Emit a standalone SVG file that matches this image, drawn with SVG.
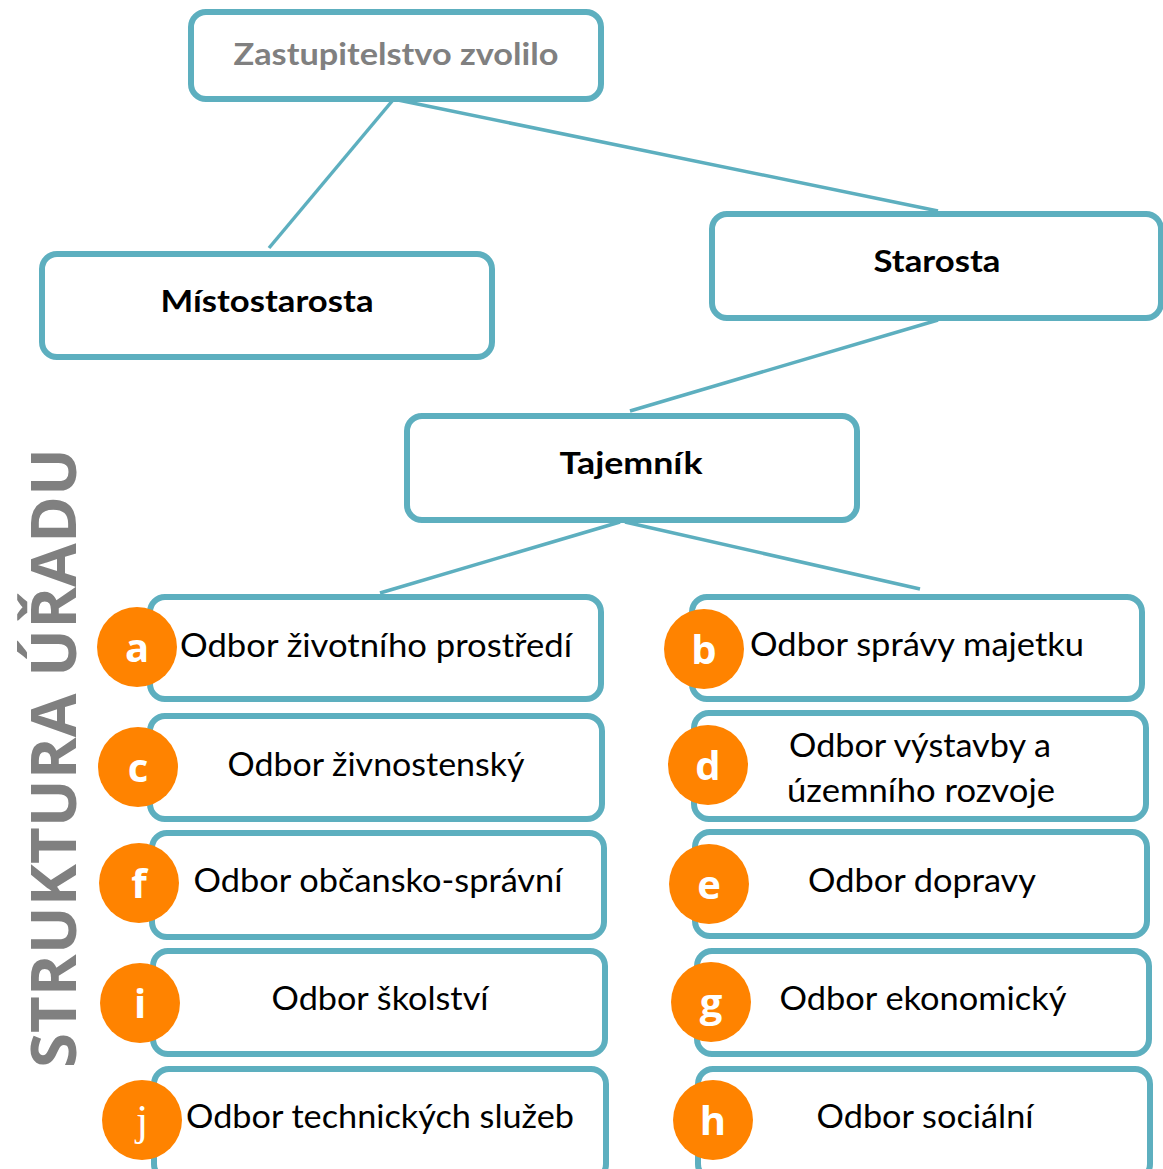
<svg xmlns="http://www.w3.org/2000/svg" width="1163" height="1169" viewBox="0 0 1163 1169">
<style>
.box{fill:#fff;stroke:#5DAFBF;stroke-width:6}
.con{stroke:#5DAFBF;stroke-width:3.5;fill:none}
.t{font-family:Lato,"Open Sans",sans-serif;font-size:32px;fill:#000;text-anchor:middle}
.b{font-weight:bold;font-size:31px}
.dot{fill:#FF8300}
.l{font-family:"Open Sans",Lato,sans-serif;font-weight:bold;font-size:40px;fill:#fff;text-anchor:middle}
</style>
<rect width="1163" height="1169" fill="#fff"/>
<g id="connectors">
<line class="con" x1="393" y1="100" x2="269" y2="248"/>
<line class="con" x1="398" y1="100" x2="938" y2="211"/>
<line class="con" x1="938" y1="320" x2="630" y2="411"/>
<line class="con" x1="620" y1="522" x2="380" y2="593"/>
<line class="con" x1="625" y1="522" x2="920" y2="589"/>
</g>
<g id="zastupitelstvo"><rect class="box" x="191" y="12" width="410" height="87" rx="15"/><text class="t b" x="396" y="65" style="fill:#808080" textLength="325" lengthAdjust="spacingAndGlyphs">Zastupitelstvo zvolilo</text></g>
<g id="mistostarosta"><rect class="box" x="42" y="254" width="450" height="103" rx="15"/><text class="t b" x="267" y="312" textLength="213" lengthAdjust="spacingAndGlyphs">Místostarosta</text></g>
<g id="starosta"><rect class="box" x="712" y="214" width="449" height="104" rx="15"/><text class="t b" x="937" y="272" textLength="127" lengthAdjust="spacingAndGlyphs">Starosta</text></g>
<g id="tajemnik"><rect class="box" x="407" y="416" width="450" height="104" rx="15"/><text class="t b" x="631" y="474" textLength="143" lengthAdjust="spacingAndGlyphs">Tajemník</text></g>
<g id="title"><text transform="translate(76,758) rotate(-90)" style="font-family:'Open Sans',Lato,sans-serif;font-weight:bold;font-size:62px;fill:#808080;text-anchor:middle" textLength="620" lengthAdjust="spacingAndGlyphs">STRUKTURA ÚŘADU</text></g>
<g id="odbor-a"><rect class="box" x="150" y="597" width="451" height="102" rx="15"/><circle class="dot" cx="137" cy="647" r="40"/><text class="l" x="137" y="662">a</text><text class="t" x="376" y="657" textLength="392" lengthAdjust="spacingAndGlyphs">Odbor životního prostředí</text></g>
<g id="odbor-b"><rect class="box" x="692" y="597" width="450" height="102" rx="15"/><circle class="dot" cx="704" cy="649" r="40"/><text class="l" x="704" y="664">b</text><text class="t" x="917" y="656" textLength="334" lengthAdjust="spacingAndGlyphs">Odbor správy majetku</text></g>
<g id="odbor-c"><rect class="box" x="150" y="716" width="452" height="103" rx="15"/><circle class="dot" cx="138" cy="767" r="40"/><text class="l" x="138" y="782">c</text><text class="t" x="376" y="776" textLength="297" lengthAdjust="spacingAndGlyphs">Odbor živnostenský</text></g>
<g id="odbor-d"><rect class="box" x="694" y="713" width="452" height="106" rx="15"/><circle class="dot" cx="708" cy="765" r="40"/><text class="l" x="708" y="780">d</text><text class="t" x="920" y="757" textLength="262" lengthAdjust="spacingAndGlyphs">Odbor výstavby a</text><text class="t" x="921" y="802" textLength="268" lengthAdjust="spacingAndGlyphs">územního rozvoje</text></g>
<g id="odbor-f"><rect class="box" x="152" y="833" width="452" height="104" rx="15"/><circle class="dot" cx="139" cy="883" r="40"/><text class="l" x="139" y="898">f</text><text class="t" x="378" y="892" textLength="369" lengthAdjust="spacingAndGlyphs">Odbor občansko-správní</text></g>
<g id="odbor-e"><rect class="box" x="695" y="832" width="452" height="104" rx="15"/><circle class="dot" cx="709" cy="884" r="40"/><text class="l" x="709" y="899">e</text><text class="t" x="922" y="892" textLength="228" lengthAdjust="spacingAndGlyphs">Odbor dopravy</text></g>
<g id="odbor-i"><rect class="box" x="153" y="951" width="452" height="103" rx="15"/><circle class="dot" cx="140" cy="1003" r="40"/><text class="l" x="140" y="1018">i</text><text class="t" x="380" y="1010" textLength="217" lengthAdjust="spacingAndGlyphs">Odbor školství</text></g>
<g id="odbor-g"><rect class="box" x="697" y="951" width="452" height="103" rx="15"/><circle class="dot" cx="711" cy="1002" r="40"/><text class="l" x="711" y="1017">g</text><text class="t" x="923" y="1010" textLength="287" lengthAdjust="spacingAndGlyphs">Odbor ekonomický</text></g>
<g id="odbor-j"><rect class="box" x="154" y="1069" width="452" height="110" rx="15"/><circle class="dot" cx="142" cy="1120" r="40"/><text x="142" y="1135" style="font-family:'Liberation Serif',serif;font-size:44px;fill:#fff;text-anchor:middle">j</text><text class="t" x="380" y="1128" textLength="388" lengthAdjust="spacingAndGlyphs">Odbor technických služeb</text></g>
<g id="odbor-h"><rect class="box" x="698" y="1069" width="452" height="110" rx="15"/><circle class="dot" cx="713" cy="1120" r="40"/><text class="l" x="713" y="1135">h</text><text class="t" x="925" y="1128" textLength="217" lengthAdjust="spacingAndGlyphs">Odbor sociální</text></g>
</svg>
